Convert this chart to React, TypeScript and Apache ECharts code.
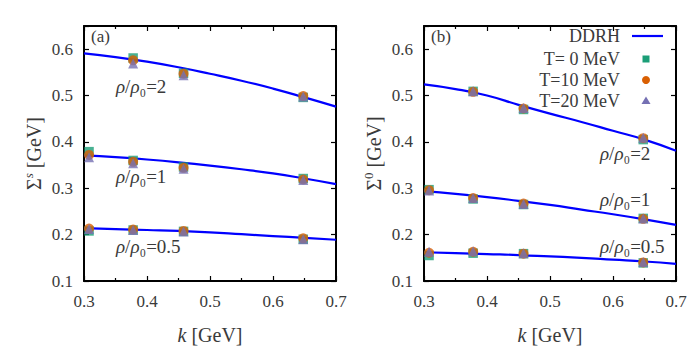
import React, { useEffect, useRef } from "react";
import * as echarts from "echarts";

// k values of the simulation points [GeV]
const kPoints = [0.308, 0.378, 0.458, 0.648];
// k grid of the DDRH curves [GeV]
const kCurve = [0.3, 0.35, 0.4, 0.45, 0.5, 0.55, 0.6, 0.65, 0.7];

// Panel (a): Sigma^s
const aCurve2 = [0.591, 0.583, 0.573, 0.561, 0.547, 0.532, 0.515, 0.496, 0.476];
const aCurve1 = [0.371, 0.367, 0.362, 0.356, 0.349, 0.341, 0.332, 0.321, 0.309];
const aCurve05 = [0.214, 0.212, 0.21, 0.208, 0.205, 0.201, 0.197, 0.193, 0.189];
const aT0 = [[null, 0.581, 0.548, 0.496], [0.379, 0.36, 0.346, 0.321], [0.208, 0.21, 0.207, 0.19]];
const aT10 = [[null, 0.576, 0.547, 0.499], [0.372, 0.357, 0.344, 0.319], [0.213, 0.211, 0.208, 0.192]];
const aT20 = [[null, 0.569, 0.544, 0.498], [0.367, 0.354, 0.342, 0.318], [0.212, 0.21, 0.207, 0.19]];

// Panel (b): Sigma^0
const bCurve2 = [0.524, 0.514, 0.5, 0.48, 0.461, 0.443, 0.424, 0.405, 0.381];
const bCurve1 = [0.294, 0.288, 0.281, 0.273, 0.264, 0.254, 0.244, 0.233, 0.221];
const bCurve05 = [0.162, 0.16, 0.158, 0.156, 0.153, 0.15, 0.146, 0.142, 0.137];
const bT0 = [[null, 0.509, 0.47, 0.405], [0.297, 0.277, 0.265, 0.235], [0.155, 0.16, 0.159, 0.139]];
const bT10 = [[null, 0.508, 0.472, 0.408], [0.296, 0.279, 0.267, 0.234], [0.161, 0.163, 0.159, 0.14]];
const bT20 = [[null, 0.509, 0.473, 0.409], [0.295, 0.279, 0.266, 0.235], [0.163, 0.164, 0.16, 0.141]];

const xTicks = [0.3, 0.4, 0.5, 0.6, 0.7];
const yTicks = [0.1, 0.2, 0.3, 0.4, 0.5, 0.6];
const legendNames = ["DDRH", "T= 0 MeV", "T=10 MeV", "T=20 MeV"];
const densityLabels = ["2", "1", "0.5"];

const FONT = "Liberation Serif";
const TXT = "#3a3a3a";
const BLUE = "#0000ff";
const GREEN = "#1b9e77";
const ORANGE = "#d95f02";
const PURPLE = "#7570b3";

function pairs(xs: number[], ys: (number | null)[]) {
  return xs.map((x, i) => [x, ys[i]]).filter((p) => p[1] !== null);
}

export default function App() {
  const ref = useRef<HTMLDivElement>(null);
  useEffect(() => {
    if (!ref.current) return;
    const chart = echarts.init(ref.current, undefined, { renderer: "svg" });

    const grids = [
      { left: 84, right: 364, top: 26, bottom: 69 },
      { left: 424, right: 24, top: 26, bottom: 69 },
    ];

    const xAxes: any[] = [];
    const yAxes: any[] = [];
    const yNames = ["{b|Σ}{supi|s} [GeV]", "{b|Σ}{sup|0} [GeV]"];
    [0, 1].forEach((g) => {
      const common = {
        type: "value",
        gridIndex: g,
        axisLine: { show: true, onZero: false, lineStyle: { color: "#000", width: 2 } },
        splitLine: { show: false },
      };
      xAxes.push({
        ...common,
        position: "bottom",
        min: 0.3,
        max: 0.7,
        interval: 0.1,
        axisTick: { inside: true, length: 5, lineStyle: { color: "#000", width: 1.2 } },
        minorTick: { show: true, splitNumber: 2, length: 3, lineStyle: { color: "#000", width: 1.2 } },
        axisLabel: {
          color: TXT,
          fontFamily: FONT,
          fontSize: 17,
          margin: 12,
          formatter: (v: number) => (xTicks.some((t) => Math.abs(t - v) < 1e-6) ? v.toFixed(1) : ""),
        },
        name: "{it|k} [GeV]",
        nameLocation: "middle",
        nameGap: 44,
        nameTextStyle: {
          color: TXT,
          fontFamily: FONT,
          fontSize: 20,
          rich: { it: { fontStyle: "italic", fontFamily: FONT, fontSize: 20, color: TXT } },
        },
      });
      xAxes.push({
        ...common,
        position: "top",
        min: 0.3,
        max: 0.7,
        interval: 0.1,
        axisTick: { inside: true, length: 5, lineStyle: { color: "#000", width: 1.2 } },
        minorTick: { show: true, splitNumber: 2, length: 3, lineStyle: { color: "#000", width: 1.2 } },
        axisLabel: { show: false },
      });
      yAxes.push({
        ...common,
        position: "left",
        min: 0.1,
        max: 0.65,
        interval: 0.1,
        axisTick: { inside: true, length: 5, lineStyle: { color: "#000", width: 1.2 } },
        axisLabel: {
          color: TXT,
          fontFamily: FONT,
          fontSize: 17,
          margin: 11,
          formatter: (v: number) => (yTicks.some((t) => Math.abs(t - v) < 1e-6) ? v.toFixed(1) : ""),
        },
        name: yNames[g],
        nameLocation: "middle",
        nameRotate: 90,
        nameGap: 38,
        nameTextStyle: {
          color: TXT,
          fontFamily: FONT,
          fontSize: 20,
          lineHeight: 24,
          rich: {
            b: { fontFamily: FONT, fontSize: 20, color: TXT, lineHeight: 24 },
            sup: { fontFamily: FONT, fontSize: 13, color: TXT, verticalAlign: "top", lineHeight: 24 },
            supi: { fontFamily: FONT, fontSize: 13, color: TXT, verticalAlign: "top", lineHeight: 24, fontStyle: "italic" },
          },
        },
      });
      yAxes.push({
        ...common,
        position: "right",
        min: 0.1,
        max: 0.65,
        interval: 0.1,
        axisTick: { inside: true, length: 5, lineStyle: { color: "#000", width: 1.2 } },
        axisLabel: { show: false },
      });
    });

    const series: any[] = [];
    const panels = [
      { curves: [aCurve2, aCurve1, aCurve05], t0: aT0, t10: aT10, t20: aT20 },
      { curves: [bCurve2, bCurve1, bCurve05], t0: bT0, t10: bT10, t20: bT20 },
    ];
    panels.forEach((p, g) => {
      const xi = g * 2;
      const yi = g * 2;
      p.curves.forEach((c) => {
        series.push({
          type: "line",
          name: legendNames[0],
          xAxisIndex: xi,
          yAxisIndex: yi,
          data: pairs(kCurve, c),
          smooth: true,
          symbol: "none",
          lineStyle: { color: BLUE, width: 2.2 },
          z: 2,
        });
      });
      const sets = [
        { d: p.t0, sym: "rect", size: 9.5, color: GREEN, z: 3 },
        { d: p.t10, sym: "circle", size: 10, color: ORANGE, z: 4 },
        { d: p.t20, sym: "triangle", size: 10, color: PURPLE, z: 5 },
      ];
      sets.forEach((s, si) => {
        s.d.forEach((row) => {
          series.push({
            type: "scatter",
            name: legendNames[si + 1],
            xAxisIndex: xi,
            yAxisIndex: yi,
            data: pairs(kPoints, row),
            symbol: s.sym,
            symbolSize: s.size,
            itemStyle: { color: s.color },
            z: s.z,
          });
        });
      });
    });

    const rich = {
      it: { fontStyle: "italic", fontFamily: FONT, fontSize: 19, fill: TXT },
      n: { fontFamily: FONT, fontSize: 19, fill: TXT },
    };
    const densText = (i: number) => `{it|ρ}{n|/}{it|ρ}{n|₀=${densityLabels[i]}}`;
    const annot = (x: number, y: number, i: number) => ({
      type: "text",
      left: x,
      top: y,
      style: { text: densText(i), rich, fontFamily: FONT, fontSize: 19, fill: TXT, textVerticalAlign: "middle" },
    });

    const legendText = (y: number, t: string) => ({
      type: "text",
      x: 620,
      y,
      style: { text: t, fontFamily: FONT, fontSize: 18, fill: TXT, textAlign: "right", textVerticalAlign: "middle" },
    });

    const graphic: any[] = [
      { type: "text", x: 91, y: 36, style: { text: "(a)", fontFamily: FONT, fontSize: 17, fill: TXT, textVerticalAlign: "middle" } },
      { type: "text", x: 431, y: 36, style: { text: "(b)", fontFamily: FONT, fontSize: 17, fill: TXT, textVerticalAlign: "middle" } },
      annot(116, 77, 0),
      annot(116, 167, 1),
      annot(116, 237, 2),
      annot(600, 144, 0),
      annot(600, 190, 1),
      annot(600, 237, 2),
      legendText(36, legendNames[0]),
      legendText(59, legendNames[1]),
      legendText(80, legendNames[2]),
      legendText(101, legendNames[3]),
      { type: "line", shape: { x1: 632, y1: 36, x2: 663, y2: 36 }, style: { stroke: BLUE, lineWidth: 2.2 } },
      { type: "rect", shape: { x: 642.5, y: 55.5, width: 7, height: 7 }, style: { fill: GREEN } },
      { type: "circle", shape: { cx: 646, cy: 80, r: 4 }, style: { fill: ORANGE } },
      { type: "polygon", shape: { points: [[646, 96.5], [650.5, 104], [641.5, 104]] }, style: { fill: PURPLE } },
    ];

    chart.setOption({
      animation: false,
      backgroundColor: "#fff",
      grid: grids,
      xAxis: xAxes,
      yAxis: yAxes,
      series,
      graphic,
    });
    return () => chart.dispose();
  }, []);

  return (
    <div
      ref={ref}
      style={{ position: "fixed", left: 0, top: 0, width: 700, height: 350 }}
    />
  );
}
